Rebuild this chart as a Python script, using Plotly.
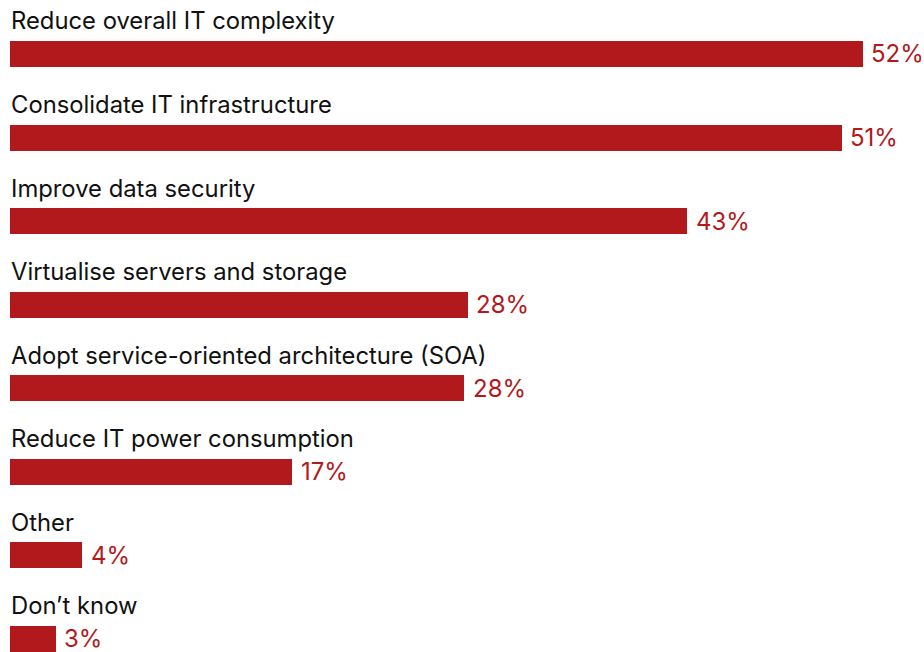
import plotly.graph_objects as go

categories = [
    "Reduce overall IT complexity",
    "Consolidate IT infrastructure",
    "Improve data security",
    "Virtualise servers and storage",
    "Adopt service-oriented architecture (SOA)",
    "Reduce IT power consumption",
    "Other",
    "Don\u2019t know",
]
# bar lengths (percent)
values = [52.0, 50.7, 41.3, 27.9, 27.7, 17.2, 4.4, 2.8]
# printed labels
labels = ["52%", "51%", "43%", "28%", "28%", "17%", "4%", "3%"]

RED = "#B2191C"
FONT = "Inter"

idx = list(range(len(categories)))

fig = go.Figure(
    go.Bar(
        x=values,
        y=idx,
        orientation="h",
        marker=dict(color=RED, line=dict(width=0)),
        width=0.311,
        hoverinfo="skip",
    )
)

annotations = []
for i, (c, v, l) in enumerate(zip(categories, values, labels)):
    annotations.append(dict(
        x=0, y=i, xref="x", yref="y", text=c, showarrow=False,
        xanchor="left", yanchor="middle", yshift=33, xshift=-1,
        font=dict(family=FONT, size=23.8, color="#111111"),
    ))
    annotations.append(dict(
        x=v, y=i, xref="x", yref="y", text=l, showarrow=False,
        xanchor="left", yanchor="middle", yshift=0, xshift=7.5,
        borderpad=0,
        font=dict(family=FONT, size=24, color=RED),
    ))

fig.update_layout(
    width=924, height=652,
    margin=dict(l=10, r=0, t=0, b=0),
    paper_bgcolor="white", plot_bgcolor="white",
    showlegend=False,
    xaxis=dict(range=[0, 55.73], visible=False, fixedrange=True),
    yaxis=dict(range=[7.156, -0.646], visible=False, fixedrange=True),
    annotations=annotations,
    bargap=0,
)

fig.write_html("out.html", config={"displayModeBar": False})
